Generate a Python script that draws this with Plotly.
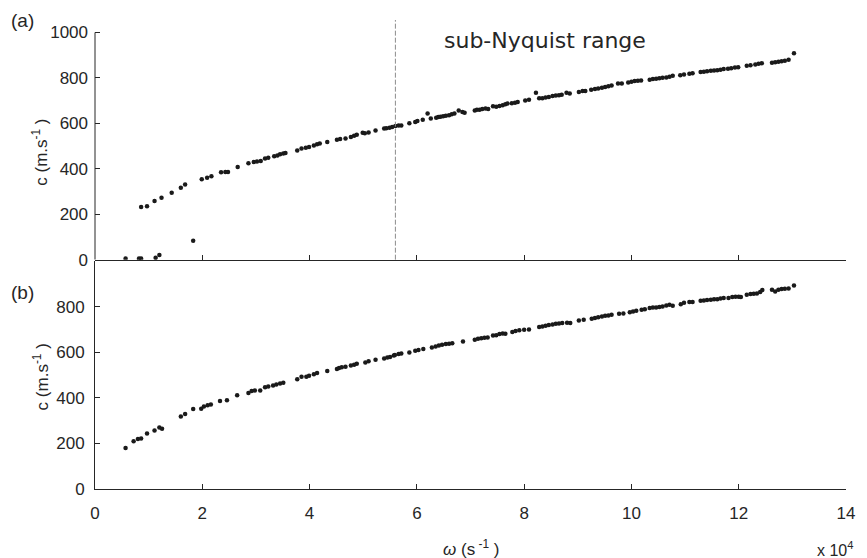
import plotly.graph_objects as go

# ---- data (omega in units of 1e4 s^-1, c in m/s) ----
omega_a = [0.57, 0.82, 0.86, 1.13, 1.20, 1.83,
           0.86, 0.97, 1.11, 1.24, 1.43, 1.60, 1.68,
           1.99, 2.09, 2.17, 2.35, 2.43, 2.48, 2.66, 2.86, 2.96, 3.02, 3.09, 3.17, 3.23,
           3.34, 3.40, 3.45, 3.51, 3.55, 3.77, 3.85, 3.93, 3.99, 4.08, 4.14, 4.19, 4.33,
           4.51, 4.57, 4.67, 4.77, 4.83, 4.88, 4.99, 5.03, 5.10, 5.23, 5.39, 5.43, 5.49,
           5.54, 5.60, 5.66, 5.71, 5.86, 5.97, 6.01, 6.11, 6.20, 6.26, 6.36, 6.40, 6.44,
           6.49, 6.54, 6.60, 6.65, 6.70, 6.78, 6.85, 6.89, 7.08, 7.12, 7.17, 7.22, 7.28,
           7.33, 7.42, 7.48, 7.54, 7.60, 7.65, 7.69, 7.77, 7.83, 7.88, 8.02, 8.09, 8.22,
           8.28, 8.34, 8.40, 8.46, 8.53, 8.59, 8.65, 8.70, 8.79, 8.85, 9.02, 9.09, 9.14,
           9.25, 9.32, 9.38, 9.45, 9.51, 9.57, 9.63, 9.75, 9.82, 9.94, 10.00, 10.06, 10.12,
           10.18, 10.34, 10.40, 10.46, 10.52, 10.58, 10.65, 10.71, 10.77, 10.91, 10.98,
           11.08, 11.14, 11.29, 11.35, 11.41, 11.48, 11.54, 11.60, 11.66, 11.72, 11.80,
           11.86, 11.93, 11.99, 12.15, 12.22, 12.31, 12.37, 12.43, 12.62, 12.68, 12.74,
           12.80, 12.86, 12.93, 13.03]
c_a = [5, 5, 5, 8, 20, 83,
       232, 235, 258, 272, 294, 316, 331,
       354, 361, 367, 385, 386, 386, 408, 424, 430, 432, 434, 445, 449,
       455, 459, 464, 467, 469, 481, 489, 493, 496, 503, 508, 511, 518,
       528, 531, 533, 540, 546, 550, 559, 556, 560, 569, 577, 579, 581,
       584, 588, 591, 591, 601, 606, 610, 616, 643, 621, 625, 628, 629,
       631, 634, 636, 640, 643, 657, 650, 647, 657, 660, 660, 663, 665,
       663, 675, 673, 676, 680, 684, 687, 689, 691, 694, 701, 704, 735,
       711, 711, 714, 716, 720, 723, 724, 726, 735, 731, 738, 742, 742,
       748, 751, 754, 757, 760, 763, 767, 775, 776, 780, 783, 786, 788,
       789, 792, 795, 796, 799, 801, 802, 805, 810, 812, 815,
       818, 821, 826, 827, 829, 832, 833, 834, 836, 839, 840,
       843, 846, 847, 854, 856, 859, 862, 865, 867, 869, 871,
       873, 876, 880, 909]

omega_b = [0.57, 0.72, 0.80, 0.86, 0.97, 1.11, 1.20, 1.25, 1.60, 1.68, 1.83, 1.98, 2.03,
           2.10, 2.16, 2.33, 2.46, 2.65, 2.86, 2.92, 2.98, 3.08, 3.17, 3.23, 3.32, 3.38,
           3.45, 3.51, 3.77, 3.85, 3.94, 3.99, 4.08, 4.14, 4.33, 4.51, 4.55, 4.60, 4.67,
           4.77, 4.83, 4.88, 5.04, 5.10, 5.23, 5.39, 5.45, 5.50, 5.57, 5.59, 5.66, 5.71,
           5.86, 5.97, 6.03, 6.12, 6.28, 6.35, 6.41, 6.47, 6.54, 6.60, 6.66, 6.86, 7.08,
           7.14, 7.20, 7.26, 7.32, 7.42, 7.48, 7.54, 7.60, 7.65, 7.78, 7.84, 7.91, 8.00,
           8.09, 8.28, 8.34, 8.40, 8.46, 8.53, 8.59, 8.65, 8.71, 8.80, 8.86, 9.02, 9.11,
           9.26, 9.32, 9.38, 9.45, 9.51, 9.57, 9.63, 9.77, 9.85, 9.97, 10.03, 10.09, 10.19,
           10.25, 10.34, 10.40, 10.46, 10.52, 10.58, 10.65, 10.71, 10.77, 10.92, 10.98,
           11.08, 11.14, 11.29, 11.35, 11.41, 11.48, 11.54, 11.60, 11.66, 11.72, 11.81,
           11.88, 11.94, 12.00, 12.04, 12.15, 12.22, 12.28, 12.34, 12.40, 12.44, 12.62,
           12.68, 12.74, 12.80, 12.86, 12.93, 13.03]
c_b = [180, 209, 219, 222, 243, 257, 270, 264, 318, 329, 351, 352, 362,
       367, 371, 386, 389, 411, 421, 430, 432, 432, 446, 450, 454, 459,
       463, 466, 481, 493, 492, 497, 504, 509, 518, 526, 531, 534, 536,
       542, 545, 550, 555, 560, 567, 573, 577, 579, 586, 588, 592, 595,
       599, 607, 610, 614, 621, 625, 630, 633, 636, 637, 640, 647, 655,
       659, 661, 664, 665, 674, 675, 680, 682, 681, 689, 693, 696, 699,
       700, 711, 713, 716, 719, 722, 725, 726, 728, 729, 728, 739, 743,
       747, 750, 754, 757, 760, 761, 765, 769, 770, 776, 779, 782, 786,
       789, 794, 796, 796, 798, 801, 805, 808, 804, 811, 817,
       820, 820, 826, 827, 829, 830, 832, 833, 836, 838, 838,
       842, 843, 843, 842, 852, 856, 857, 858, 864, 873, 874,
       867, 874, 877, 879, 880, 893]

x_ticks = [0, 2, 4, 6, 8, 10, 12, 14]
y_ticks_a = [0, 200, 400, 600, 800, 1000]
y_ticks_b = [0, 200, 400, 600, 800]
nyquist_omega = 5.6

TXT = "#262626"
FONT = "Liberation Sans"

fig = go.Figure()
fig.add_trace(go.Scatter(x=omega_a, y=c_a, mode="markers", xaxis="x2", yaxis="y2",
                         marker=dict(size=4.5, color="#1a1a1a"), showlegend=False))
fig.add_trace(go.Scatter(x=omega_b, y=c_b, mode="markers", xaxis="x", yaxis="y",
                         marker=dict(size=4.5, color="#1a1a1a"), showlegend=False))

axis_common = dict(ticks="inside", ticklen=5, tickwidth=1, tickcolor=TXT,
                   showgrid=False, zeroline=False, linecolor=TXT, linewidth=1,
                   tickfont=dict(family=FONT, size=17, color=TXT))

# page body has an 8px margin -> figure is 859x550 placed at (8, 8)
fig.update_layout(
    width=859, height=550,
    margin=dict(l=87, r=14, t=12, b=69, pad=0),
    paper_bgcolor="white", plot_bgcolor="white",
    xaxis=dict(domain=[0, 1], range=[0, 14], tickvals=x_ticks, anchor="y",
               showline=True, ticklabelstandoff=9, **axis_common),
    yaxis=dict(domain=[0, 0.486], range=[0, 1000], tickvals=y_ticks_b, anchor="x",
               showline=True, ticklabelstandoff=6, **axis_common),
    xaxis2=dict(domain=[0, 1], range=[0, 14], tickvals=x_ticks, anchor="y2",
                showticklabels=False, showline=True, **axis_common),
    yaxis2=dict(domain=[0.489, 1], range=[0, 1055], tickvals=y_ticks_a, anchor="x2",
                showline=False, ticklabelstandoff=6, **axis_common),
)

# left axis line of the top panel (stops at 1000)
fig.add_shape(type="line", xref="x2 domain", yref="y2", x0=0, x1=0, y0=0, y1=1000,
              line=dict(color=TXT, width=1))
# Nyquist marker
fig.add_shape(type="line", xref="x2", yref="y2 domain", x0=nyquist_omega, x1=nyquist_omega,
              y0=0, y1=1, line=dict(color="#8c8c8c", width=1, dash="5px,2px"))

fig.add_annotation(text="sub-Nyquist range", xref="x2", yref="y2", x=8.38, y=965,
                   showarrow=False, font=dict(family="DejaVu Sans", size=22, color=TXT))
fig.add_annotation(text="(a)", xref="paper", yref="paper", x=-0.115, y=1.0,
                   xanchor="left", yanchor="middle", showarrow=False,
                   font=dict(family=FONT, size=19, color=TXT))
fig.add_annotation(text="(b)", xref="paper", yref="paper", x=-0.115, y=0.42,
                   xanchor="left", yanchor="middle", showarrow=False,
                   font=dict(family=FONT, size=19, color=TXT))
for yc in (0.718, 0.239):
    fig.add_annotation(text="c (m.s<sup>-1</sup> )", xref="paper", yref="paper", x=-0.0726, y=yc,
                       xanchor="center", yanchor="middle", textangle=-90, showarrow=False,
                       font=dict(family=FONT, size=17, color=TXT))
fig.add_annotation(text="<i>ω</i> (s<sup> -1</sup> )", xref="paper", yref="paper", x=0.5, y=-0.125,
                   xanchor="center", yanchor="middle", showarrow=False,
                   font=dict(family=FONT, size=17, color=TXT))
fig.add_annotation(text="x 10<sup>4</sup>", xref="paper", yref="paper", x=1.012, y=-0.127,
                   xanchor="right", yanchor="middle", showarrow=False,
                   font=dict(family=FONT, size=16, color=TXT))

fig.write_html("out.html")
